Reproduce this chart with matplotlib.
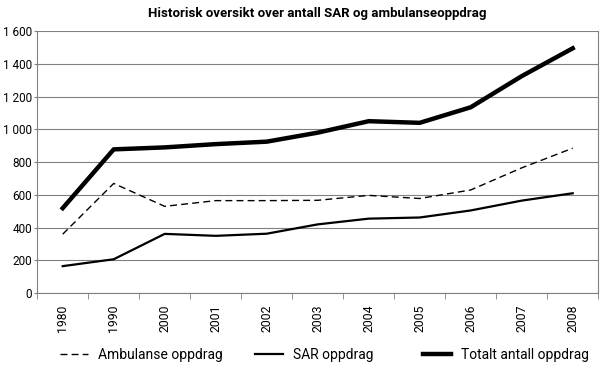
import matplotlib.pyplot as plt
import numpy as np

# Data
years = ["1980", "1990", "2000", "2001", "2002", "2003", "2004", "2005", "2006", "2007", "2008"]
ambulanse = [360, 670, 530, 565, 565, 567, 597, 578, 630, 765, 885]
sar = [165, 207, 362, 350, 363, 420, 455, 462, 505, 565, 610]
totalt = [519, 878, 890, 910, 925, 980, 1050, 1040, 1135, 1325, 1495]

plt.rcParams['font.family'] = ['Roboto', 'DejaVu Sans']

fig = plt.figure(figsize=(6, 3.66), dpi=100)
ax = fig.add_axes([0.062, 0.199, 0.935, 0.716])

x = np.arange(len(years))
l1, = ax.plot(x, ambulanse, color="black", lw=1.0, ls=(0, (5, 3)))
l2, = ax.plot(x, sar, color="black", lw=1.6)
l3, = ax.plot(x, totalt, color="black", lw=3.2)

ax.set_xlim(-0.5, len(years) - 0.5)
ax.set_ylim(0, 1600)
ax.set_yticks(range(0, 1601, 200))
ax.set_yticklabels([f"{v:,}".replace(",", " ") for v in range(0, 1601, 200)], fontsize=8.5)
ax.yaxis.grid(True, color="#808080", lw=0.8)
ax.set_axisbelow(True)

ax.set_xticks(x)
ax.set_xticklabels(years, rotation=90, fontsize=8.8)
ax.tick_params(axis="x", length=0, pad=8)
ax.set_xticks(np.arange(-0.5, len(years), 1), minor=True)
ax.tick_params(axis="x", which="minor", length=4, color="#808080")
ax.tick_params(axis="y", length=2.5, color="#808080", pad=1)

ax.spines["top"].set_visible(False)
for side in ["left", "bottom", "right"]:
    ax.spines[side].set_color("#808080")

ax.set_title("Historisk oversikt over antall SAR og ambulanseoppdrag", fontsize=9.5, fontweight="bold", pad=10)

# legend entries placed like the reference
legend_kw = dict(loc="center left", frameon=False, fontsize=10, handlelength=2.0,
                 handletextpad=0.72, borderaxespad=0)
fig.legend([l1], ["Ambulanse oppdrag"], bbox_to_anchor=(0.091, 0.03), **legend_kw)
fig.legend([l2], ["SAR oppdrag"], bbox_to_anchor=(0.416, 0.03), **legend_kw)
fig.legend([l3], ["Totalt antall oppdrag"], bbox_to_anchor=(0.696, 0.03), **legend_kw)

fig.savefig("out.png", dpi=100)
